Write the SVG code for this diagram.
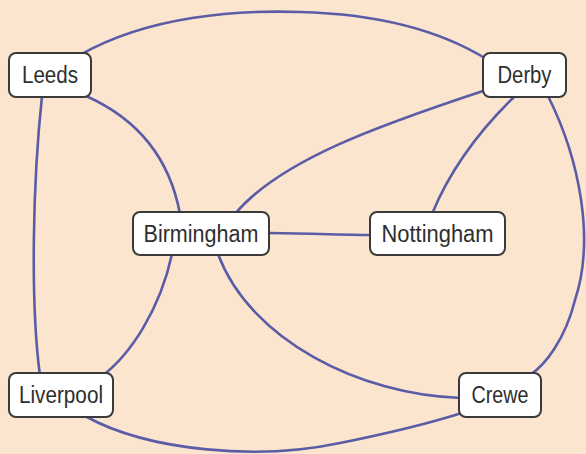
<svg xmlns="http://www.w3.org/2000/svg" width="586" height="454" viewBox="0 0 586 454">
  <style>
    .edge { fill: none; stroke: #5b5ca6; stroke-width: 2.6; stroke-linecap: round; }
    .box { fill: #ffffff; stroke: #3a3a3a; stroke-width: 2; }
    .label { font-family: "Liberation Sans", Arial, sans-serif; font-size: 23px; fill: #2e2e2e; text-anchor: middle; }
  </style>
  <rect x="0" y="0" width="586" height="454" fill="#fbe5cf"/>
  <g id="connectors">
    <path class="edge" d="M80,55 C150,15 240,10 300,12 C380,14 440,30 488,60"/>
    <path class="edge" d="M42,96 C33,180 30,300 40,376"/>
    <path class="edge" d="M86,96 C140,120 170,160 180,214"/>
    <path class="edge" d="M486,90 C380,125 280,160 235,214"/>
    <path class="edge" d="M515,96 C480,130 450,170 432,214"/>
    <path class="edge" d="M548,96 C580,160 595,240 575,300 C565,340 545,365 530,375"/>
    <path class="edge" d="M268,233 C300,233 340,235 372,235"/>
    <path class="edge" d="M172,254 C160,310 130,355 102,376"/>
    <path class="edge" d="M218,254 C250,340 360,395 461,398"/>
    <path class="edge" d="M85,416 C150,452 260,460 340,443 C395,432 440,420 465,412"/>
  </g>
  <g id="leeds">
    <rect class="box" x="9" y="53" width="82" height="44" rx="7"/>
    <text class="label" x="50" y="83" textLength="56" lengthAdjust="spacingAndGlyphs">Leeds</text>
  </g>
  <g id="derby">
    <rect class="box" x="483" y="53" width="83" height="44" rx="7"/>
    <text class="label" x="524.5" y="83" textLength="54" lengthAdjust="spacingAndGlyphs">Derby</text>
  </g>
  <g id="birmingham">
    <rect class="box" x="133" y="212" width="136" height="43" rx="7"/>
    <text class="label" x="201" y="242" textLength="115" lengthAdjust="spacingAndGlyphs">Birmingham</text>
  </g>
  <g id="nottingham">
    <rect class="box" x="370" y="212" width="135" height="43" rx="7"/>
    <text class="label" x="437.5" y="242" textLength="112" lengthAdjust="spacingAndGlyphs">Nottingham</text>
  </g>
  <g id="liverpool">
    <rect class="box" x="9" y="373" width="104" height="44" rx="7"/>
    <text class="label" x="61" y="403" textLength="84" lengthAdjust="spacingAndGlyphs">Liverpool</text>
  </g>
  <g id="crewe">
    <rect class="box" x="459" y="373" width="82" height="44" rx="7"/>
    <text class="label" x="500" y="403" textLength="57" lengthAdjust="spacingAndGlyphs">Crewe</text>
  </g>
</svg>
